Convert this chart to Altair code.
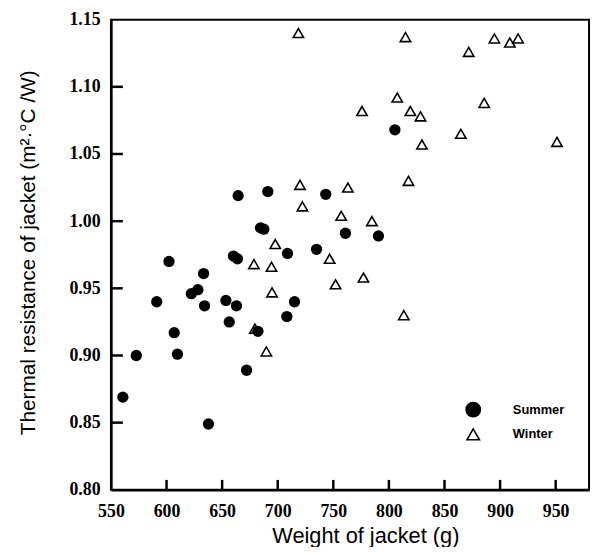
import altair as alt
import pandas as pd

# ---- data ----
series = ["Summer", "Winter"]

summer_weight = [560.7, 572.8, 591.2, 602.2, 606.9, 609.8, 622.3, 628.2, 633.3, 634.2,
                 637.7, 653.4, 656.4, 660.2, 663.8, 662.9, 664.4, 672.0, 682.2, 684.5,
                 687.5, 691.1, 708.8, 708.2, 715.1, 734.9, 743.2, 760.9, 790.6, 805.4]
summer_resist = [0.869, 0.900, 0.940, 0.970, 0.917, 0.901, 0.946, 0.949, 0.961, 0.937,
                 0.849, 0.941, 0.925, 0.974, 0.972, 0.937, 1.019, 0.889, 0.918, 0.995,
                 0.994, 1.022, 0.976, 0.929, 0.940, 0.979, 1.020, 0.991, 0.989, 1.068]

winter_weight = [678.6, 679.5, 689.8, 694.4, 694.9, 697.8, 718.6, 720.0, 722.2, 746.7,
                 752.0, 757.1, 763.1, 777.1, 784.7, 775.8, 807.5, 813.4, 814.9, 817.6,
                 819.3, 828.4, 829.7, 864.7, 871.8, 885.7, 894.9, 908.8, 916.2, 951.2]
winter_resist = [0.968, 0.920, 0.903, 0.966, 0.947, 0.983, 1.140, 1.027, 1.011, 0.972,
                 0.953, 1.004, 1.025, 0.958, 1.000, 1.082, 1.092, 0.930, 1.137, 1.030,
                 1.082, 1.078, 1.057, 1.065, 1.126, 1.088, 1.136, 1.133, 1.136, 1.059]

x_ticks = [550, 600, 650, 700, 750, 800, 850, 900, 950]
y_ticks = [0.80, 0.85, 0.90, 0.95, 1.00, 1.05, 1.10, 1.15]
x_inner_ticks = x_ticks[1:]
y_inner_ticks = y_ticks[1:-1]

summer = pd.DataFrame({"weight": summer_weight, "resistance": summer_resist, "season": series[0]})
winter = pd.DataFrame({"weight": winter_weight, "resistance": winter_resist, "season": series[1]})

xscale = alt.Scale(domain=[550, 980], nice=False, zero=False)
yscale = alt.Scale(domain=[0.80, 1.15], nice=False, zero=False)

label_font = "Liberation Serif"
title_font = "Liberation Sans"

x_title = "Weight of  jacket (g)"
y_title = "Thermal  resistance of  jacket (m²·°C /W)"

x_axis = alt.Axis(values=x_ticks, title=x_title, ticks=False, tickSize=0,
                  labelFont=label_font, labelFontSize=18, labelFontWeight="bold",
                  labelColor="black", labelPadding=13, labelFlush=False,
                  titleFont=title_font, titleFontSize=22, titleFontWeight="normal",
                  titleColor="black", titleX=257, titleY=46, titleBaseline="middle",
                  titleAlign="center", grid=False)
y_axis = alt.Axis(values=y_ticks, format=".2f", title=y_title,
                  ticks=False, tickSize=0,
                  labelFont=label_font, labelFontSize=18, labelFontWeight="bold",
                  labelColor="black", labelPadding=11, labelFlush=False,
                  titleFont=title_font, titleFontSize=21, titleFontWeight="normal",
                  titleColor="black", titleX=-83, titleY=235, titleAngle=270,
                  titleBaseline="middle", titleAlign="center", grid=False)

summer_layer = alt.Chart(summer).mark_point(
    shape="circle", filled=True, color="black", size=130, opacity=1
).encode(
    x=alt.X("weight:Q", scale=xscale, axis=x_axis, title=x_title),
    y=alt.Y("resistance:Q", scale=yscale, axis=y_axis, title=y_title),
)

winter_layer = alt.Chart(winter).mark_point(
    shape="triangle-up", filled=False, color="black", size=110, strokeWidth=1.6, opacity=1
).encode(
    x=alt.X("weight:Q", scale=xscale, axis=x_axis, title=x_title),
    y=alt.Y("resistance:Q", scale=yscale, axis=y_axis, title=y_title),
)

ytick_layer = alt.Chart(pd.DataFrame({"v": y_inner_ticks})).mark_rule(
    color="black", strokeWidth=2.5
).encode(
    y=alt.Y("v:Q", scale=yscale, axis=y_axis, title=y_title),
    x=alt.value(0), x2=alt.value(12),
)

xtick_layer = alt.Chart(pd.DataFrame({"v": x_inner_ticks})).mark_rule(
    color="black", strokeWidth=2.5
).encode(
    x=alt.X("v:Q", scale=xscale, axis=x_axis, title=x_title),
    y=alt.value(475), y2=alt.value(465),
)

# legend (inside the plot, lower right)
leg_summer_sym = alt.Chart(pd.DataFrame({"label": [series[0]]})).mark_point(
    shape="circle", filled=True, color="black", size=256, opacity=1
).encode(x=alt.value(366), y=alt.value(394))
leg_winter_sym = alt.Chart(pd.DataFrame({"label": [series[1]]})).mark_point(
    shape="triangle-up", filled=False, color="black", size=160, strokeWidth=1.6, opacity=1
).encode(x=alt.value(366), y=alt.value(419))
leg_summer_txt = alt.Chart(pd.DataFrame({"label": [series[0]]})).mark_text(
    align="left", baseline="middle", font=title_font, fontSize=13, fontWeight="bold", color="black"
).encode(x=alt.value(406), y=alt.value(394), text="label:N")
leg_winter_txt = alt.Chart(pd.DataFrame({"label": [series[1]]})).mark_text(
    align="left", baseline="middle", font=title_font, fontSize=13, fontWeight="bold", color="black"
).encode(x=alt.value(406), y=alt.value(419), text="label:N")

chart = alt.layer(
    summer_layer, winter_layer, ytick_layer, xtick_layer,
    leg_summer_sym, leg_winter_sym, leg_summer_txt, leg_winter_txt,
).properties(
    width=483, height=475,
    autosize=alt.AutoSizeParams(type="none"),
    padding={"left": 104, "top": 9, "right": 3, "bottom": 55},
    background="white",
).configure_view(
    stroke="black", strokeWidth=2
).configure_axis(
    domainColor="black", domainWidth=2.5
)

chart.save("out.html", embed_options={"renderer": "svg", "actions": False})
